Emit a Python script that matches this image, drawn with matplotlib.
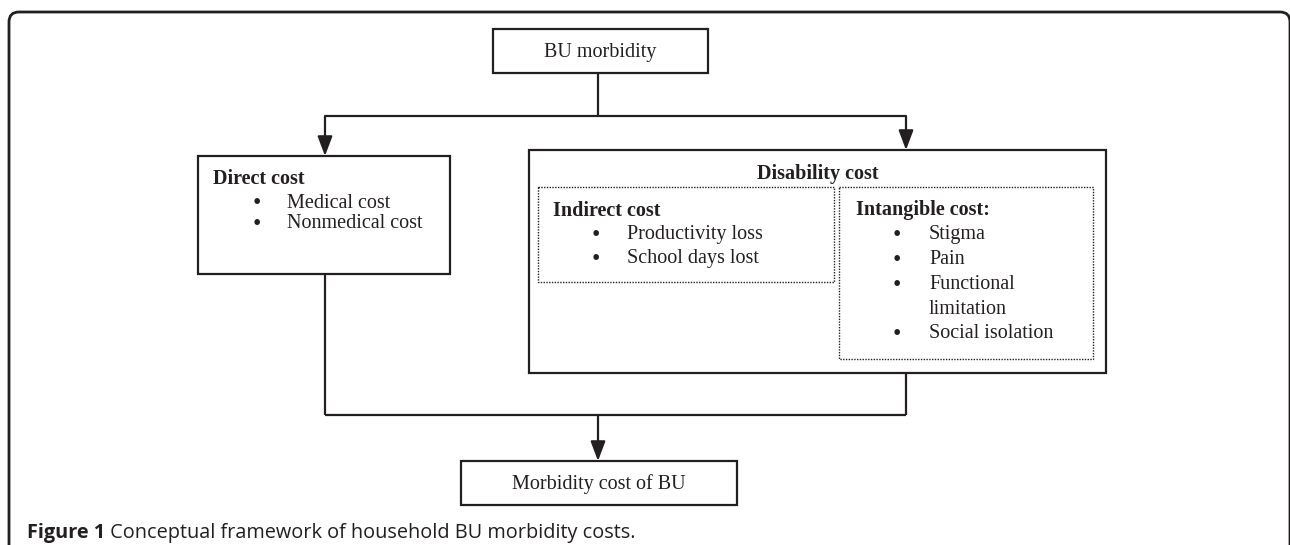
import matplotlib
matplotlib.use("Agg")
import matplotlib.pyplot as plt
from matplotlib.patches import Rectangle, FancyBboxPatch, FancyArrowPatch

W, H = 1290, 545
fig = plt.figure(figsize=(W / 100, H / 100), dpi=100)
ax = fig.add_axes([0, 0, 1, 1])
ax.set_xlim(0, W)
ax.set_ylim(H, 0)
ax.axis("off")

INK = "#231f20"
SERIF = "Liberation Serif"
CAP_FONT = "Open Sans"

# ---- content ----
top_label = "BU morbidity"
bottom_label = "Morbidity cost of BU"
direct_title = "Direct cost"
direct_items = ["Medical cost", "Nonmedical cost"]
disability_title = "Disability cost"
indirect_title = "Indirect cost"
indirect_items = ["Productivity loss", "School days lost"]
intangible_title = "Intangible cost:"
intangible_items = ["Stigma", "Pain", "Functional\nlimitation", "Social isolation"]
caption_bold = "Figure 1"
caption_text = " Conceptual framework of household BU morbidity costs."

# ---- layout (pixel boxes: x0, y0, x1, y1) ----
box_top = (493, 29, 708, 73)
box_direct = (198, 156, 450, 274)
box_dis = (529, 150, 1106, 373)
box_ind = (538, 187, 834, 282)
box_intg = (839, 187, 1093, 359)
box_bot = (461, 461, 737, 505)
split_y = 116
join_y = 415
xl, xr, xc = 325, 906, 598


def rect(b, ls="-", lw=1.6):
    x0, y0, x1, y1 = b
    ax.add_patch(Rectangle((x0, y0), x1 - x0, y1 - y0, fill=False,
                           edgecolor=INK, lw=lw, linestyle=ls, zorder=3))


def line(xs, ys):
    ax.plot(xs, ys, color=INK, lw=1.6, solid_capstyle="butt", zorder=2)


def arrow(x, y0, y1):
    ax.add_patch(FancyArrowPatch((x, y0), (x, y1), arrowstyle="-|>,head_length=0.85,head_width=0.32",
                                 mutation_scale=14, color=INK, lw=1.6, shrinkA=0, shrinkB=0, zorder=4))


def txt(x, y, s, bold=False, ha="left", fs=14.5):
    ax.text(x, y, s, ha=ha, va="baseline", fontsize=fs, family=SERIF,
            weight="bold" if bold else "normal", color=INK)


def bullet(x, y):
    ax.text(x, y + 1.5, "\u2022", ha="center", va="baseline", fontsize=17, family=SERIF, color=INK)


# outer rounded frame (right edge runs off the picture)
ax.add_patch(FancyBboxPatch((9, 12), 1281, 600, boxstyle="round,pad=0,rounding_size=10",
                            fill=False, edgecolor=INK, lw=2.0, clip_on=True, zorder=1))

rect(box_top)
rect(box_direct)
rect(box_dis)
rect(box_ind, ls=(0, (1, 1)), lw=1.0)
rect(box_intg, ls=(0, (1, 1)), lw=1.0)
rect(box_bot)

# connectors
line([xc, xc], [box_top[3], split_y])
line([xl, xr], [split_y, split_y])
arrow(xl, split_y, box_direct[1])
arrow(xr, split_y, box_dis[1])
line([xl, xl], [box_direct[3], join_y])
line([xr, xr], [box_dis[3], join_y])
line([xl, xr], [join_y, join_y])
arrow(xc, join_y, box_bot[1])

txt((box_top[0] + box_top[2]) / 2, 57.5, top_label, ha="center")
txt((box_bot[0] + box_bot[2]) / 2, 488.5, bottom_label, ha="center")

# direct cost
txt(213, 183.5, direct_title, bold=True)
for i, t in enumerate(direct_items):
    y = 207.5 + i * 21
    bullet(257, y)
    txt(287, y, t)

# disability
txt((box_dis[0] + box_dis[2]) / 2, 178.5, disability_title, bold=True, ha="center")
txt(553, 215.5, indirect_title, bold=True)
for i, t in enumerate(indirect_items):
    y = 239.5 + i * 24
    bullet(596, y)
    txt(627, y, t)

txt(856, 215.5, intangible_title, bold=True)
y = 239.5
for t in intangible_items:
    bullet(897, y)
    for ln in t.split("\n"):
        txt(929, y, ln)
        y += 24.75

# caption
cap_fs = 14.3
t1 = ax.text(27, 538, caption_bold, ha="left", va="baseline", fontsize=cap_fs,
             family=CAP_FONT, weight="bold", color=INK)
fig.canvas.draw()
bb = t1.get_window_extent()
ax.annotate(caption_text, xy=(bb.x1, H - 538), xycoords="figure pixels",
            ha="left", va="baseline", fontsize=cap_fs, family=CAP_FONT, color=INK)

fig.savefig("out.png", dpi=100)
